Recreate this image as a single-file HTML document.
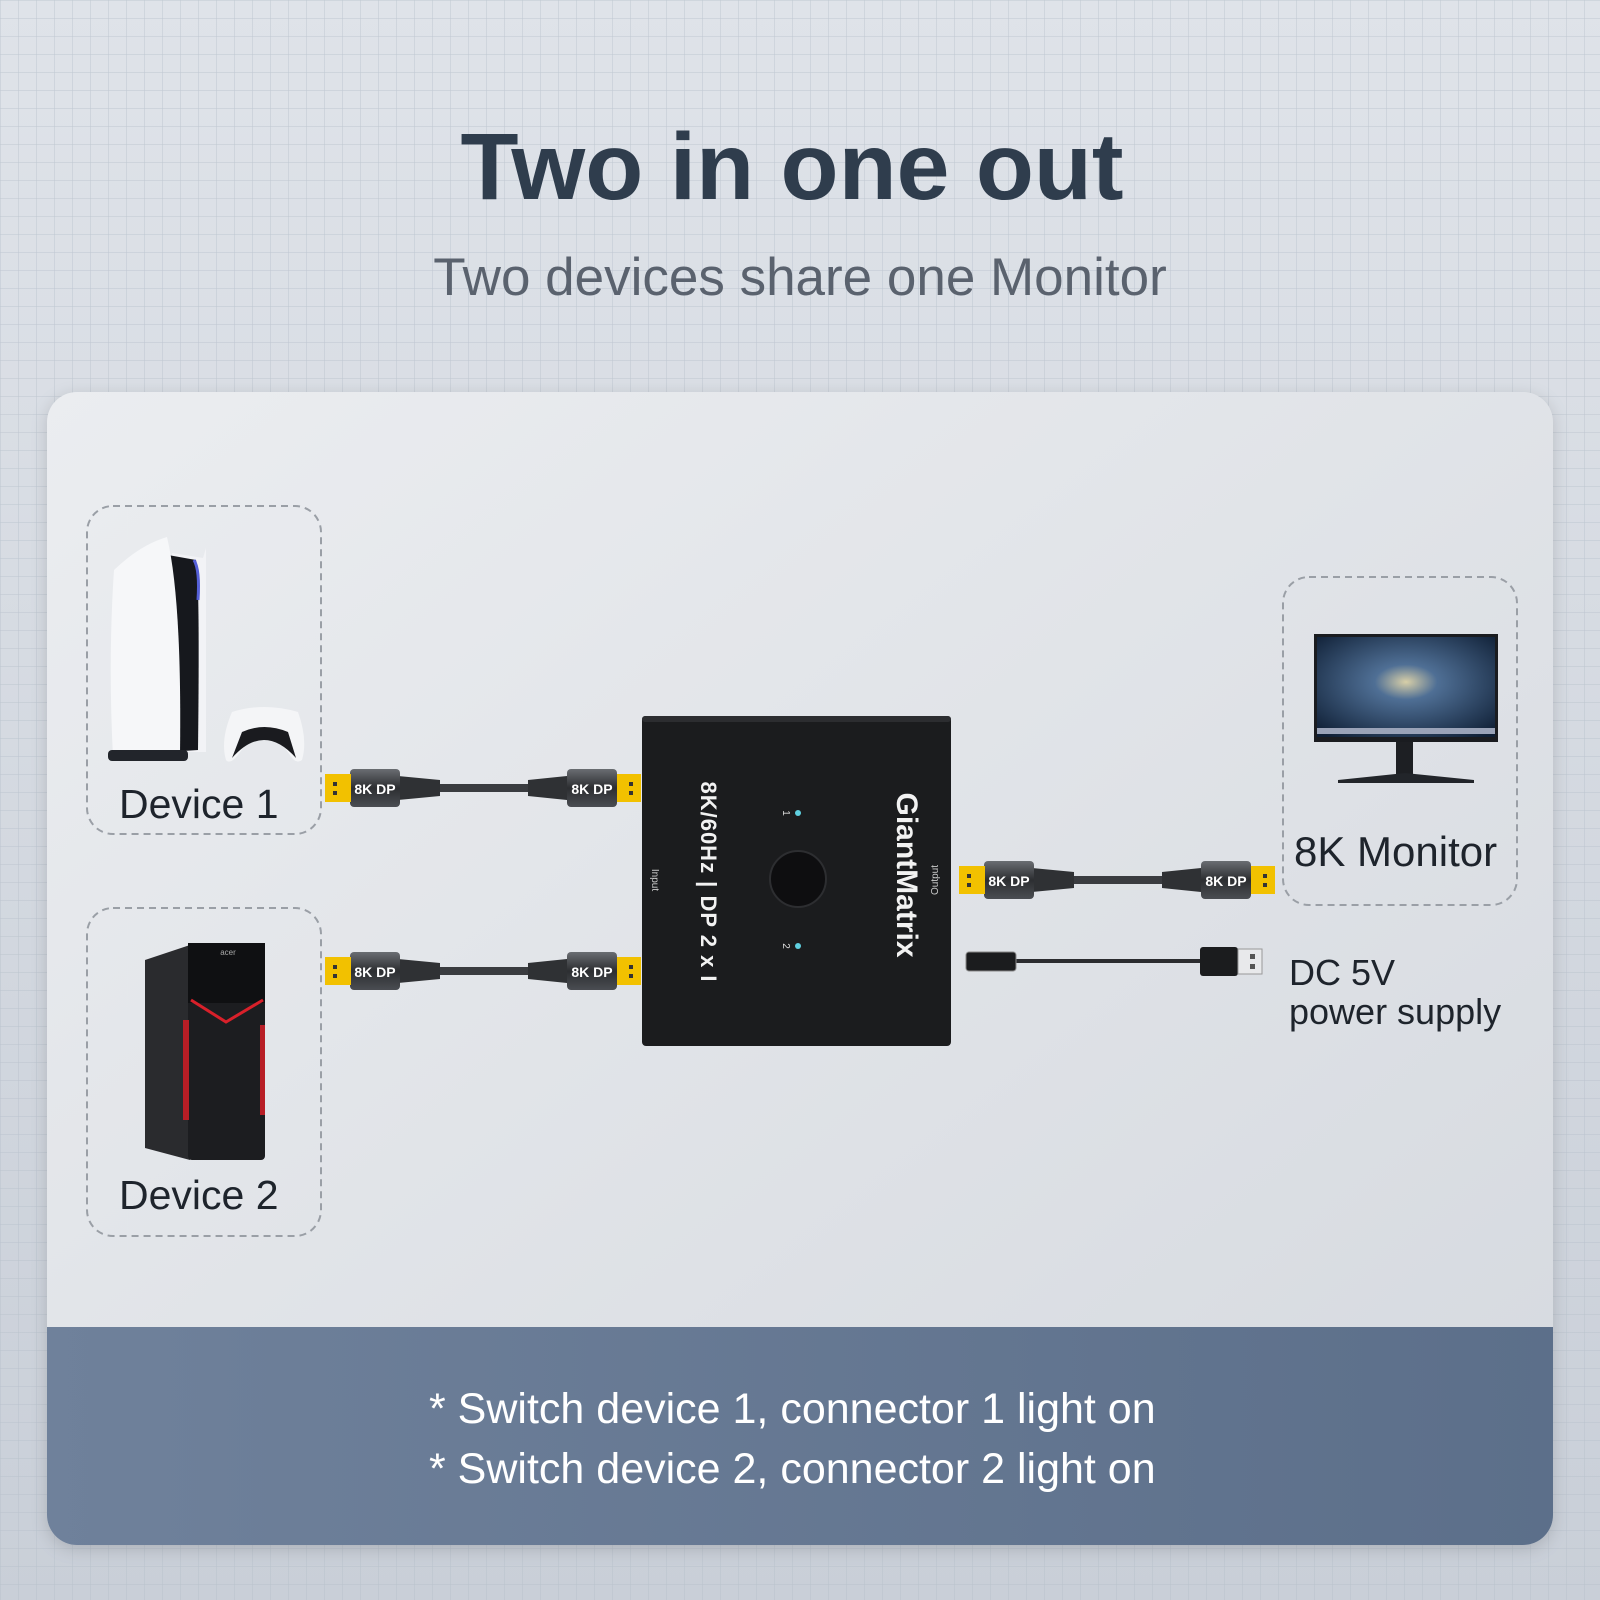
<!DOCTYPE html>
<html><head><meta charset="utf-8"><style>
html,body{margin:0;padding:0;width:1600px;height:1600px;overflow:hidden;background:#d3d8df}
svg{display:block}
text{font-family:"Liberation Sans","DejaVu Sans",sans-serif}
</style></head><body>
<svg width="1600" height="1600" viewBox="0 0 1600 1600" xmlns="http://www.w3.org/2000/svg">
<defs>
<linearGradient id="bg" x1="0" y1="0" x2="0" y2="1"><stop offset="0" stop-color="#dfe3e9"/><stop offset="1" stop-color="#c9cfd8"/></linearGradient>
<pattern id="grid" width="18" height="18" patternUnits="userSpaceOnUse"><path d="M18 0H0V18" fill="none" stroke="#b3bcc8" stroke-width="1" opacity="0.7"/></pattern>
<linearGradient id="card" x1="0" y1="0" x2="1" y2="1"><stop offset="0" stop-color="#ebedf0"/><stop offset="1" stop-color="#d5d9df"/></linearGradient>
<linearGradient id="band" x1="0" y1="0" x2="1" y2="0"><stop offset="0" stop-color="#6f819b"/><stop offset="1" stop-color="#5c6f8a"/></linearGradient>
<radialGradient id="scr" cx="0.5" cy="0.45" r="0.7"><stop offset="0" stop-color="#d8cfa8"/><stop offset="0.25" stop-color="#4f6f95"/><stop offset="1" stop-color="#0f1f35"/></radialGradient>
<clipPath id="cardclip"><rect x="47" y="392" width="1506" height="1153" rx="30"/></clipPath>
<linearGradient id="conn" x1="0" y1="0" x2="0" y2="1"><stop offset="0" stop-color="#6a6d72"/><stop offset="0.5" stop-color="#2c2e31"/><stop offset="1" stop-color="#4a4d52"/></linearGradient>
</defs>
<rect width="1600" height="1600" fill="url(#bg)"/>
<rect width="1600" height="1600" fill="url(#grid)"/>

<text x="792" y="199" font-size="95" font-weight="bold" fill="#2f3d4d" text-anchor="middle">Two in one out</text>
<text x="800" y="295" font-size="53" fill="#5a626e" text-anchor="middle">Two devices share one Monitor</text>

<rect x="47" y="392" width="1506" height="1153" rx="30" fill="url(#card)" style="filter:drop-shadow(0 4px 8px rgba(0,0,0,0.15))"/>
<g clip-path="url(#cardclip)"><rect x="47" y="1327" width="1506" height="220" fill="url(#band)"/></g>
<text x="429" y="1423" font-size="43" fill="#ffffff">* Switch device 1, connector 1 light on</text>
<text x="429" y="1483" font-size="43" fill="#ffffff">* Switch device 2, connector 2 light on</text>

<g fill="none" stroke="#9a9fa6" stroke-width="2" stroke-dasharray="7 5">
<rect x="87" y="506" width="234" height="328" rx="26"/>
<rect x="87" y="908" width="234" height="328" rx="26"/>
<rect x="1283" y="577" width="234" height="328" rx="26"/>
</g>
<text x="119" y="818" font-size="41" fill="#1e242c">Device 1</text>
<text x="119" y="1209" font-size="41" fill="#1e242c">Device 2</text>
<text x="1294" y="866" font-size="42" fill="#1e242c">8K Monitor</text>
<text x="1289" y="985" font-size="36" fill="#1e242c">DC 5V</text>
<text x="1289" y="1024" font-size="36" fill="#1e242c">power supply</text>

<!-- PS5 -->
<path d="M172 553 L203 558 L206 548 L206 752 L172 752Z" fill="#f2f3f6"/>
<path d="M168 555 L196 560 Q200 580 198 750 L168 752Z" fill="#16181d"/>
<path d="M194 560 Q200 570 198 600" stroke="#5560d8" stroke-width="3" fill="none"/>
<path d="M114 570 Q140 545 167 537 Q182 600 180 755 L113 757 Q108 660 114 570Z" fill="#f6f7f9"/>
<rect x="108" y="750" width="80" height="11" rx="4" fill="#22252b"/>
<!-- controller -->
<path d="M232 712 Q264 702 298 712 Q308 740 302 760 Q296 765 290 755 Q276 735 264 735 Q252 735 238 755 Q230 765 226 760 Q220 740 232 712Z" fill="#f4f5f7"/>
<path d="M242 732 Q264 722 288 732 L296 758 Q280 740 264 740 Q248 740 232 758Z" fill="#1a1b1f"/>

<!-- PC tower -->
<path d="M145 960 L190 945 L190 1160 L145 1148Z" fill="#2a2b2e"/>
<rect x="188" y="943" width="77" height="217" rx="4" fill="#1c1d20"/>
<rect x="188" y="943" width="77" height="60" fill="#0f1012"/>
<path d="M191 1000 L226 1022 L263 1000" fill="none" stroke="#d8202a" stroke-width="3"/>
<rect x="183" y="1020" width="6" height="100" fill="#b81e26"/>
<rect x="260" y="1025" width="5" height="90" fill="#b81e26"/>
<text x="228" y="955" font-size="8" fill="#aaa" text-anchor="middle">acer</text>

<!-- Monitor -->
<rect x="1314" y="634" width="184" height="108" fill="#1a1c20"/>
<rect x="1317" y="637" width="178" height="100" fill="url(#scr)"/>
<rect x="1317" y="728" width="178" height="6" fill="#9aa3b8"/>
<rect x="1396" y="742" width="17" height="33" fill="#1d1f23"/>
<path d="M1338 780 L1405 773 L1474 780 L1474 783 L1338 783Z" fill="#22252a"/>

<!-- Switch -->
<rect x="642" y="716" width="309" height="330" rx="4" fill="#1b1c1e"/>
<rect x="642" y="716" width="309" height="6" rx="3" fill="#2c2d30"/>
<circle cx="798" cy="879" r="28" fill="#0e0e10" stroke="#2d2e31" stroke-width="2"/>
<circle cx="798" cy="813" r="3" fill="#5fd0e0"/>
<circle cx="798" cy="946" r="3" fill="#5fd0e0"/>
<text transform="translate(783,813) rotate(90)" font-size="10" fill="#ddd" text-anchor="middle">1</text>
<text transform="translate(783,946) rotate(90)" font-size="10" fill="#ddd" text-anchor="middle">2</text>
<text transform="translate(897,875) rotate(90)" font-size="30" font-weight="bold" fill="#f2f2f2" text-anchor="middle">GiantMatrix</text>
<text transform="translate(701,882) rotate(90)" font-size="22" font-weight="bold" fill="#f2f2f2" text-anchor="middle" letter-spacing="1">8K/60Hz  |  DP 2 x I</text>
<text transform="translate(652,880) rotate(90)" font-size="10" fill="#ccc" text-anchor="middle">Input</text>
<text transform="translate(938,880) rotate(-90)" font-size="10" fill="#ccc" text-anchor="middle">Output</text>

<g id="c1">
<rect x="438" y="784" width="90" height="8" fill="#3a3c40"/>
<path d="M398 776 L440 780 L440 796 L398 800Z" fill="#2f3134"/>
<path d="M528 780 L567 776 L567 800 L528 796Z" fill="#2f3134"/>
<rect x="350" y="769" width="50" height="38" rx="4" fill="url(#conn)"/>
<rect x="567" y="769" width="50" height="38" rx="4" fill="url(#conn)"/>
<rect x="325" y="774" width="26" height="28" fill="#f2c100"/>
<rect x="617" y="774" width="24" height="28" fill="#f2c100"/>
<rect x="333" y="782" width="4" height="4" fill="#333"/><rect x="333" y="791" width="4" height="4" fill="#333"/>
<rect x="629" y="782" width="4" height="4" fill="#333"/><rect x="629" y="791" width="4" height="4" fill="#333"/>
</g>
<text x="375" y="794" font-size="14" font-weight="bold" fill="#fff" text-anchor="middle">8K DP</text>
<text x="592" y="794" font-size="14" font-weight="bold" fill="#fff" text-anchor="middle">8K DP</text>
<use href="#c1" transform="translate(0,183)"/>
<text x="375" y="977" font-size="14" font-weight="bold" fill="#fff" text-anchor="middle">8K DP</text>
<text x="592" y="977" font-size="14" font-weight="bold" fill="#fff" text-anchor="middle">8K DP</text>
<use href="#c1" transform="translate(634,92)"/>
<text x="1009" y="886" font-size="14" font-weight="bold" fill="#fff" text-anchor="middle">8K DP</text>
<text x="1226" y="886" font-size="14" font-weight="bold" fill="#fff" text-anchor="middle">8K DP</text>

<rect x="1015" y="959" width="185" height="4" fill="#2b2c2f"/>
<rect x="966" y="952" width="50" height="19" rx="3" fill="#1b1c1e" stroke="#888" stroke-width="1"/>
<rect x="1200" y="947" width="38" height="29" rx="3" fill="#1b1c1e"/>
<rect x="1238" y="949" width="24" height="25" fill="#e8e9eb" stroke="#999"/>
<rect x="1250" y="954" width="5" height="5" fill="#555"/><rect x="1250" y="964" width="5" height="5" fill="#555"/>
</svg>
</body></html>
